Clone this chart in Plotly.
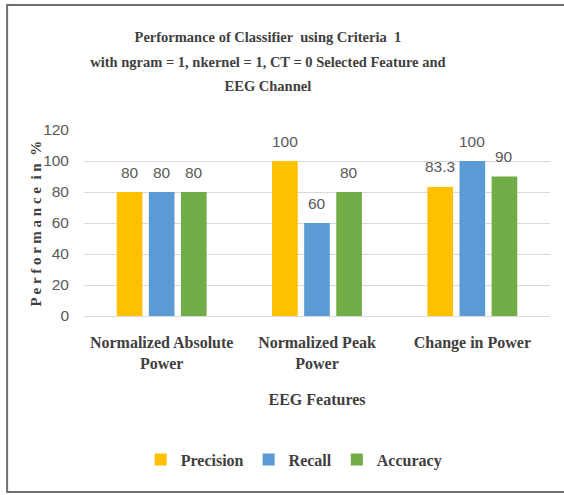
import plotly.graph_objects as go

categories = ["Normalized Absolute<br>Power", "Normalized Peak<br>Power", "Change in Power"]
precision = [80, 100, 83.3]
recall = [80, 60, 100]
accuracy = [80, 80, 90]
series_names = ["Precision", "Recall", "Accuracy"]
colors = ["#FFC000", "#5B9BD5", "#70AD47"]
y_ticks = [0, 20, 40, 60, 80, 100, 120]
title_lines = [
    "Performance of Classifier  using Criteria  1",
    "with ngram = 1, nkernel = 1, CT = 0 Selected Feature and",
    "EEG Channel",
]
y_title = "Performance in %"

serif = "Liberation Serif, Times New Roman, serif"
narrow = "Liberation Sans Narrow, Arial Narrow, Liberation Sans, sans-serif"

BARGAP = 0.38
series = [precision, recall, accuracy]

fig = go.Figure()
for name, vals, col in zip(series_names, series, colors):
    fig.add_trace(go.Bar(
        name=f"<b>{name}</b>", x=categories, y=vals,
        marker=dict(color=col, line=dict(width=0)),
    ))

# data labels floating above each bar (positions derived from the group layout)
slot = (1 - BARGAP) / len(series)
annotations = []
for k, vals in enumerate(series):
    for i, v in enumerate(vals):
        annotations.append(dict(
            x=i + (k - (len(series) - 1) / 2) * slot, y=v, xref="x", yref="y",
            text=f"{v:g}", showarrow=False, yanchor="middle", yshift=20,
            font=dict(family=narrow, size=15.5, color="#595959"),
        ))

# letter-spaced vertical axis title
spaced = " ".join(y_title).replace("   ", "  ")
annotations.append(dict(
    x=-0.104, y=0.495, xref="paper", yref="paper", xanchor="center", yanchor="middle",
    text=f"<b>{spaced}</b>", textangle=-90, showarrow=False,
    font=dict(family=serif, size=15, color="#404040"),
))

title_html = "<br>".join(f"<span style='font-size:14.5px'><b>{t}</b></span>" for t in title_lines)

fig.update_layout(
    width=564, height=495,
    margin=dict(l=84, r=14, t=130, b=179),
    paper_bgcolor="white", plot_bgcolor="white",
    barmode="group", bargap=BARGAP, bargroupgap=0.2,
    title=dict(
        text=title_html,
        x=0.475, xanchor="center", y=0.915, yanchor="top",
        font=dict(family=serif, size=19, color="#404040"),
    ),
    font=dict(family=serif, color="#404040"),
    annotations=annotations,
    xaxis=dict(
        title=dict(text="<b>EEG Features</b>", font=dict(family=serif, size=16, color="#404040"), standoff=22),
        tickfont=dict(family=serif, size=16, color="#404040"),
        tickprefix="<b>", ticksuffix="</b>",
        showline=True, linecolor="#D9D9D9", linewidth=1, ticks="",
        ticklabelstandoff=12,
    ),
    yaxis=dict(
        range=[0, 120], tickvals=y_ticks, showgrid=True, gridcolor="#D9D9D9", gridwidth=1,
        zeroline=True, zerolinecolor="#D9D9D9", zerolinewidth=1,
        tickfont=dict(family=narrow, size=15.5, color="#595959"), ticks="",
        ticklabelstandoff=14,
    ),
    legend=dict(
        orientation="h", x=0.45, xanchor="center", y=-0.68, yanchor="top",
        font=dict(family=serif, size=16, color="#404040"),
        itemwidth=30, traceorder="normal",
    ),
)

# outer border of the chart
fig.add_shape(type="rect", xref="paper", yref="paper",
              x0=-0.165, x1=1.04, y0=-0.946, y1=1.672,
              line=dict(color="#6E6E6E", width=2), layer="below")

fig.write_html("out.html", config={"displayModeBar": False},
               post_script="document.body.style.margin='0px';")
